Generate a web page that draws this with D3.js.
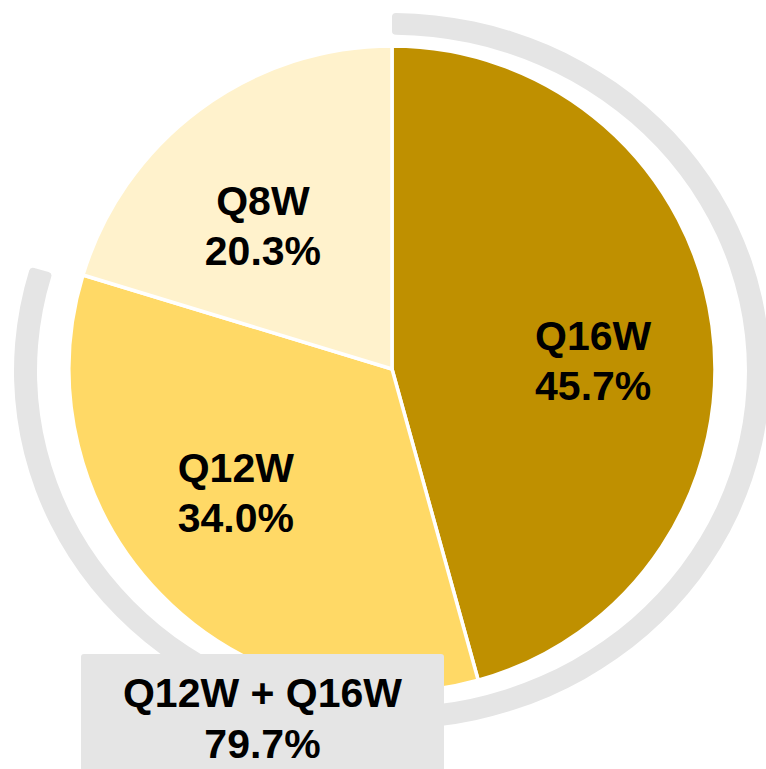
<!DOCTYPE html>
<html>
<head>
<meta charset="utf-8">
<script src="https://cdn.jsdelivr.net/npm/d3@7"></script>
<style>
  html, body { margin: 0; padding: 0; background: #ffffff; }
  svg { display: block; }
  text { font-family: "Liberation Sans", Arial, sans-serif; font-weight: bold; fill: #000; }
</style>
</head>
<body>
<svg id="chart" width="766" height="769"></svg>
<script>
// Share of each segment (percent)
const categories = ["Q16W", "Q12W", "Q8W"];
const shares = [45.7, 34.0, 20.3];
// Combined share highlighted by the outer ring
const combinedName = "Q12W + Q16W";
const combinedShare = 79.7;

const colors = { "Q16W": "#BF9000", "Q12W": "#FFD966", "Q8W": "#FFF2CC" };
const ringGray = "#E5E5E5";

const W = 766, H = 769;
const cx = 392, cy = 369, R = 323;

const svg = d3.select("#chart");

const angle = d3.scaleLinear().domain([0, 100]).range([0, 2 * Math.PI]);
const fmt = d3.format(".1f");

const data = categories.map((c, i) => ({ name: c, value: shares[i] }));

// Outer ring (slightly flattened) spanning the combined share
const ringG = svg.append("g")
  .attr("transform", `translate(${cx},${cy + 2}) scale(1,0.947)`);
ringG.append("path")
  .attr("d", d3.arc()
    .innerRadius(355)
    .outerRadius(378)
    .cornerRadius(4)
    .startAngle(angle(0))
    .endAngle(angle(combinedShare))())
  .attr("fill", ringGray);

// Pie
const pie = d3.pie().sort(null).value(d => d.value)
  .startAngle(0).endAngle(2 * Math.PI);
const arcs = pie(data);
const arc = d3.arc().innerRadius(0).outerRadius(R);

const pieG = svg.append("g").attr("transform", `translate(${cx},${cy})`);
pieG.selectAll("path.slice")
  .data(arcs)
  .join("path")
  .attr("class", "slice")
  .attr("d", arc)
  .attr("fill", d => colors[d.data.name])
  .attr("stroke", "#ffffff")
  .attr("stroke-width", 3.5)
  .attr("stroke-linejoin", "round");

// Slice labels, placed around a label arc with small nudges per slice
const labelArc = d3.arc().innerRadius(200).outerRadius(200);
const nudge = { "Q16W": [3, 18], "Q12W": [-13, -17], "Q8W": [-10, 17] };
const fontSize = 41;

const labels = pieG.selectAll("text.slice-label")
  .data(arcs)
  .join("text")
  .attr("class", "slice-label")
  .attr("text-anchor", "middle")
  .style("font-size", fontSize + "px")
  .attr("transform", d => {
    const [x, y] = labelArc.centroid(d);
    const [dx, dy] = nudge[d.data.name];
    return `translate(${x + dx},${y + dy})`;
  });
labels.append("tspan").attr("x", 0).attr("y", -10).text(d => d.data.name);
labels.append("tspan").attr("x", 0).attr("y", 40).text(d => fmt(d.data.value) + "%");

// Combined label box
const boxX = 81, boxY = 654, boxW = 363;
svg.append("rect")
  .attr("x", boxX).attr("y", boxY)
  .attr("width", boxW).attr("height", H - boxY + 10)
  .attr("rx", 3).attr("ry", 3)
  .attr("fill", ringGray);

const boxText = svg.append("text")
  .attr("text-anchor", "middle")
  .style("font-size", fontSize + "px");
boxText.append("tspan").attr("x", boxX + boxW / 2).attr("y", 707).text(combinedName);
boxText.append("tspan").attr("x", boxX + boxW / 2).attr("y", 758).text(fmt(combinedShare) + "%");
</script>
</body>
</html>
